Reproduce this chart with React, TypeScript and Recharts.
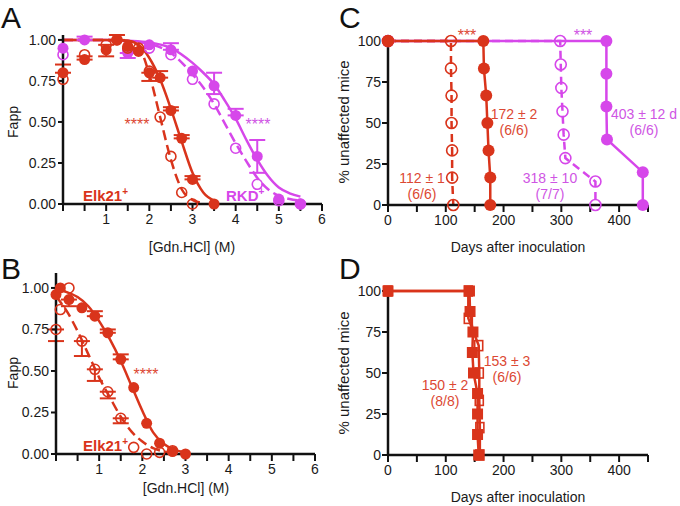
import { ComposedChart, Line, Scatter, XAxis, YAxis, ErrorBar } from "recharts";

const RED = "#d9341b";
const MAG = "#d647ea";
const RED_TXT = "#dc4833";
const MAG_TXT = "#cf55e4";
const FONT = "'Liberation Sans', Arial, Helvetica, sans-serif";

// ---- Panel A: denaturation, Elk21+ and RKD+ ----
const aElkFilled = [
  { x: 0, y: 0.8, e: [0, 0.05] },
  { x: 0.5, y: 0.88, e: [0, 0.02] },
  { x: 1, y: 0.94, e: [0.04, 0.03] },
  { x: 1.25, y: 1.0, e: [0, 0.03] },
  { x: 1.5, y: 0.96, e: null },
  { x: 1.75, y: 0.93, e: [0, 0.02] },
  { x: 2, y: 0.8, e: [0.05, 0] },
  { x: 2.25, y: 0.77, e: [0, 0.04] },
  { x: 2.5, y: 0.57, e: [0, 0.02] },
  { x: 2.75, y: 0.4, e: [0, 0.02] },
  { x: 3, y: 0.15, e: [0, 0.02] },
  { x: 3.5, y: 0.0, e: null },
];
const aElkOpen = [
  { x: 0, y: 0.76 },
  { x: 0.5, y: 0.91 },
  { x: 1, y: 0.97 },
  { x: 1.25, y: 1.0 },
  { x: 1.5, y: 0.95 },
  { x: 1.75, y: 0.95 },
  { x: 2, y: 0.81 },
  { x: 2.25, y: 0.53 },
  { x: 2.5, y: 0.29 },
  { x: 2.75, y: 0.07 },
  { x: 3, y: 0.0 },
];
const aRkdFilled = [
  { x: 0, y: 0.95, e: null },
  { x: 0.5, y: 1.0, e: [0, 0.02] },
  { x: 1.5, y: 0.92, e: [0.03, 0] },
  { x: 2, y: 0.97, e: null },
  { x: 2.5, y: 0.94, e: [0, 0.04] },
  { x: 3, y: 0.81, e: null },
  { x: 3.5, y: 0.72, e: [0.05, 0.08] },
  { x: 4, y: 0.54, e: [0, 0.04] },
  { x: 4.5, y: 0.29, e: [0.1, 0.1] },
  { x: 5, y: 0.03, e: null },
  { x: 5.5, y: 0.0, e: null },
];
const aRkdOpen = [
  { x: 0, y: 0.91 },
  { x: 1.5, y: 0.94 },
  { x: 2, y: 0.95 },
  { x: 2.5, y: 0.91 },
  { x: 3, y: 0.76 },
  { x: 3.5, y: 0.61 },
  { x: 4, y: 0.34 },
  { x: 4.5, y: 0.12 },
  { x: 5, y: 0.02 },
  { x: 5.5, y: 0.0 },
];
const aElkSolidFit = [
  { x: 0, y: 1 }, { x: 1, y: 1 }, { x: 1.5, y: 0.995 }, { x: 1.75, y: 0.97 },
  { x: 2, y: 0.89 }, { x: 2.25, y: 0.76 }, { x: 2.5, y: 0.58 }, { x: 2.75, y: 0.38 },
  { x: 3, y: 0.19 }, { x: 3.25, y: 0.07 }, { x: 3.5, y: 0.02 },
];
const aElkDashFit = [
  { x: 0, y: 1 }, { x: 1, y: 1 }, { x: 1.5, y: 0.995 }, { x: 1.75, y: 0.96 },
  { x: 2, y: 0.79 }, { x: 2.25, y: 0.53 }, { x: 2.5, y: 0.27 }, { x: 2.75, y: 0.09 },
  { x: 3, y: 0.025 }, { x: 3.25, y: 0.005 },
];
const aRkdSolidFit = [
  { x: 0, y: 1 }, { x: 1, y: 1 }, { x: 1.5, y: 0.995 }, { x: 2, y: 0.985 },
  { x: 2.5, y: 0.95 }, { x: 3, y: 0.86 }, { x: 3.25, y: 0.8 }, { x: 3.5, y: 0.73 },
  { x: 3.75, y: 0.63 }, { x: 4, y: 0.52 }, { x: 4.25, y: 0.39 }, { x: 4.5, y: 0.27 },
  { x: 4.75, y: 0.17 }, { x: 5, y: 0.1 }, { x: 5.25, y: 0.065 }, { x: 5.5, y: 0.045 },
];
const aRkdDashFit = [
  { x: 0, y: 1 }, { x: 1, y: 1 }, { x: 1.5, y: 0.99 }, { x: 2, y: 0.975 },
  { x: 2.5, y: 0.92 }, { x: 3, y: 0.79 }, { x: 3.25, y: 0.71 }, { x: 3.5, y: 0.61 },
  { x: 3.75, y: 0.49 }, { x: 4, y: 0.37 }, { x: 4.25, y: 0.26 }, { x: 4.5, y: 0.16 },
  { x: 4.75, y: 0.09 }, { x: 5, y: 0.05 }, { x: 5.25, y: 0.03 }, { x: 5.5, y: 0.02 },
];

// ---- Panel B: Elk21+ ----
const bFilled = [
  { x: 0, y: 0.96, e: null },
  { x: 0.1, y: 1.0, e: null },
  { x: 0.3, y: 0.93, e: [0.04, 0] },
  { x: 0.6, y: 0.88, e: null },
  { x: 0.9, y: 0.83, e: [0, 0.03] },
  { x: 1.2, y: 0.73, e: [0, 0.02] },
  { x: 1.5, y: 0.57, e: [0, 0.03] },
  { x: 1.8, y: 0.4, e: null },
  { x: 2.1, y: 0.185, e: null },
  { x: 2.4, y: 0.065, e: null },
  { x: 2.7, y: 0.015, e: null },
  { x: 3, y: 0.0, e: null },
];
const bOpen = [
  { x: 0, y: 0.75, e: [0.07, 0] },
  { x: 0.1, y: 0.87, e: null },
  { x: 0.3, y: 1.0, e: null },
  { x: 0.6, y: 0.68, e: [0.09, 0] },
  { x: 0.9, y: 0.51, e: [0.07, 0] },
  { x: 1.2, y: 0.375, e: [0.04, 0] },
  { x: 1.5, y: 0.215, e: [0.03, 0] },
  { x: 1.8, y: 0.04, e: null },
  { x: 2.1, y: 0.0, e: null },
  { x: 2.4, y: 0.01, e: null },
  { x: 2.7, y: 0.02, e: null },
];
const bSolidFit = [
  { x: 0, y: 0.99 }, { x: 0.25, y: 0.975 }, { x: 0.5, y: 0.945 }, { x: 0.75, y: 0.89 },
  { x: 1, y: 0.8 }, { x: 1.25, y: 0.69 }, { x: 1.5, y: 0.56 }, { x: 1.75, y: 0.41 },
  { x: 2, y: 0.26 }, { x: 2.25, y: 0.13 }, { x: 2.5, y: 0.06 }, { x: 2.75, y: 0.025 },
  { x: 3, y: 0.01 },
];
const bDashFit = [
  { x: 0, y: 0.95 }, { x: 0.25, y: 0.86 }, { x: 0.5, y: 0.74 }, { x: 0.75, y: 0.6 },
  { x: 1, y: 0.46 }, { x: 1.25, y: 0.34 }, { x: 1.5, y: 0.225 }, { x: 1.75, y: 0.135 },
  { x: 2, y: 0.075 }, { x: 2.25, y: 0.035 }, { x: 2.5, y: 0.015 }, { x: 2.75, y: 0.005 },
];

// ---- Panel C: survival ----
const cElkFilled = [
  { x: 0, y: 100 }, { x: 165, y: 100 }, { x: 166, y: 83.3 }, { x: 170, y: 66.7 },
  { x: 172, y: 50 }, { x: 174, y: 33.3 }, { x: 177, y: 16.7 }, { x: 177, y: 0 },
];
const cElkOpen = [
  { x: 0, y: 100 }, { x: 109, y: 100 }, { x: 109, y: 83.3 }, { x: 110, y: 66.7 },
  { x: 110, y: 50 }, { x: 111, y: 33.3 }, { x: 111, y: 16.7 }, { x: 113, y: 0 },
];
const cRkdFilled = [
  { x: 0, y: 100 }, { x: 378, y: 100 }, { x: 378, y: 80 }, { x: 378, y: 60 },
  { x: 379, y: 40 }, { x: 441, y: 20 }, { x: 441, y: 0 },
];
const cRkdOpen = [
  { x: 0, y: 100 }, { x: 298, y: 100 }, { x: 299, y: 85.7 }, { x: 300, y: 71.4 },
  { x: 302, y: 57.1 }, { x: 304, y: 42.9 }, { x: 307, y: 28.6 }, { x: 359, y: 14.3 },
  { x: 359, y: 0 },
];

// ---- Panel D: survival ----
const dFilled = [
  { x: 0, y: 100 }, { x: 141, y: 100 }, { x: 142, y: 87.5 }, { x: 147, y: 75 },
  { x: 146, y: 62.5 }, { x: 148, y: 50 }, { x: 155, y: 37.5 }, { x: 155, y: 25 },
  { x: 155, y: 12.5 }, { x: 157, y: 0 },
];
const dOpen = [
  { x: 0, y: 100 }, { x: 139, y: 100 }, { x: 139, y: 83.3 }, { x: 157, y: 66.7 },
  { x: 158, y: 50 }, { x: 158, y: 33.3 }, { x: 159, y: 16.7 }, { x: 159, y: 0 },
];

const fappTicks = [0, 0.25, 0.5, 0.75, 1];
const gdnTicks = [0, 0.5, 1, 1.5, 2, 2.5, 3, 3.5, 4, 4.5, 5, 5.5, 6];
const pctTicks = [0, 25, 50, 75, 100];
const dayTicks = [0, 50, 100, 150, 200, 250, 300, 350, 400, 450];

const tickStyle = { fill: "#1a1a1a", fontSize: 14, fontFamily: FONT };
const axisLine = { stroke: "#111", strokeWidth: 2.5 };
const tickLine = { stroke: "#111", strokeWidth: 2 };

const fillCircle = (color: string, r = 5.5) => (p: any) =>
  <circle key={p.index} cx={p.cx} cy={p.cy} r={r} fill={color} />;
const openCircle = (color: string, r = 5) => (p: any) =>
  <circle key={p.index} cx={p.cx} cy={p.cy} r={r} fill="none" stroke={color} strokeWidth={1.6} />;
const fillSquare = (color: string) => (p: any) =>
  <rect key={p.index} x={p.cx - 5.5} y={p.cy - 5.5} width={11} height={11} fill={color} />;
const openSquare = (color: string) => (p: any) =>
  <rect key={p.index} x={p.cx - 4} y={p.cy - 5} width={8} height={10} fill="none" stroke={color} strokeWidth={1.6} />;

const gdnFmt = (v: number) => (Number.isInteger(v) && v > 0 ? String(v) : "");
const dayFmt = (v: number) => (v % 100 === 0 && v < 450 ? String(v) : "");

function PanelA() {
  return (
    <ComposedChart width={340} height={260} margin={{ top: 35, right: 18, bottom: 26, left: 13 }}>
      <XAxis type="number" dataKey="x" domain={[0, 6]} ticks={gdnTicks} interval={0}
        tickFormatter={gdnFmt} tick={tickStyle} axisLine={axisLine} tickLine={tickLine}
        tickSize={7} tickMargin={3} height={30} />
      <YAxis type="number" dataKey="y" domain={[0, 1.03]} ticks={fappTicks} interval={0}
        tickFormatter={(v: number) => v.toFixed(2)} tick={tickStyle} axisLine={axisLine}
        tickLine={tickLine} tickSize={5} tickMargin={2} width={50} />
      <Line data={aRkdDashFit} dataKey="y" type="monotone" stroke={MAG} strokeWidth={2.5}
        strokeDasharray="10 5" dot={false} isAnimationActive={false} />
      <Line data={aRkdSolidFit} dataKey="y" type="monotone" stroke={MAG} strokeWidth={2.5}
        dot={false} isAnimationActive={false} />
      <Line data={aElkDashFit} dataKey="y" type="monotone" stroke={RED} strokeWidth={2.5}
        strokeDasharray="10 5" dot={false} isAnimationActive={false} />
      <Line data={aElkSolidFit} dataKey="y" type="monotone" stroke={RED} strokeWidth={2.5}
        dot={false} isAnimationActive={false} />
      <Scatter data={aRkdOpen} shape={openCircle(MAG)} isAnimationActive={false} />
      <Scatter data={aRkdFilled} shape={fillCircle(MAG)} isAnimationActive={false}>
        <ErrorBar dataKey="e" direction="y" width={8} stroke={MAG} strokeWidth={2} />
      </Scatter>
      <Scatter data={aElkOpen} shape={openCircle(RED)} isAnimationActive={false} />
      <Scatter data={aElkFilled} shape={fillCircle(RED)} isAnimationActive={false}>
        <ErrorBar dataKey="e" direction="y" width={8} stroke={RED} strokeWidth={2} />
      </Scatter>
    </ComposedChart>
  );
}

function PanelB() {
  return (
    <ComposedChart width={340} height={256} margin={{ top: 23, right: 25, bottom: 22, left: 6 }}>
      <XAxis type="number" dataKey="x" domain={[0, 6]} ticks={gdnTicks} interval={0}
        tickFormatter={gdnFmt} tick={tickStyle} axisLine={axisLine} tickLine={tickLine}
        tickSize={7} tickMargin={3} height={30} />
      <YAxis type="number" dataKey="y" domain={[0, 1.09]} ticks={fappTicks} interval={0}
        tickFormatter={(v: number) => v.toFixed(2)} tick={tickStyle} axisLine={axisLine}
        tickLine={tickLine} tickSize={5} tickMargin={2} width={50} />
      <Line data={bDashFit} dataKey="y" type="monotone" stroke={RED} strokeWidth={2.5}
        strokeDasharray="10 5" dot={false} isAnimationActive={false} />
      <Line data={bSolidFit} dataKey="y" type="monotone" stroke={RED} strokeWidth={2.5}
        dot={false} isAnimationActive={false} />
      <Scatter data={bOpen} shape={openCircle(RED)} isAnimationActive={false}>
        <ErrorBar dataKey="e" direction="y" width={8} stroke={RED} strokeWidth={2} />
      </Scatter>
      <Scatter data={bFilled} shape={fillCircle(RED)} isAnimationActive={false}>
        <ErrorBar dataKey="e" direction="y" width={8} stroke={RED} strokeWidth={2} />
      </Scatter>
    </ComposedChart>
  );
}

function PanelC() {
  return (
    <ComposedChart width={340} height={260} margin={{ top: 41, right: 32, bottom: 25, left: 8 }}>
      <XAxis type="number" dataKey="x" domain={[0, 450]} ticks={dayTicks} interval={0}
        tickFormatter={dayFmt} tick={tickStyle} axisLine={axisLine} tickLine={tickLine}
        tickSize={7} tickMargin={3} height={30} />
      <YAxis type="number" dataKey="y" domain={[0, 100]} ticks={pctTicks} interval={0}
        tick={tickStyle} axisLine={axisLine} tickLine={tickLine} tickSize={6} tickMargin={1} width={40} />
      <Line data={cRkdOpen} dataKey="y" type="linear" stroke={MAG} strokeWidth={2.5}
        strokeDasharray="8 5" dot={openCircle(MAG, 5.5)} isAnimationActive={false} />
      <Line data={cRkdFilled} dataKey="y" type="linear" stroke={MAG} strokeWidth={2.5}
        dot={fillCircle(MAG, 6)} isAnimationActive={false} />
      <Line data={cElkOpen} dataKey="y" type="linear" stroke={RED} strokeWidth={2.5}
        strokeDasharray="8 5" dot={openCircle(RED, 5.5)} isAnimationActive={false} />
      <Line data={cElkFilled} dataKey="y" type="linear" stroke={RED} strokeWidth={2.5}
        dot={fillCircle(RED, 6)} isAnimationActive={false} />
    </ComposedChart>
  );
}

function PanelD() {
  return (
    <ComposedChart width={340} height={256} margin={{ top: 41, right: 32, bottom: 21, left: 8 }}>
      <XAxis type="number" dataKey="x" domain={[0, 450]} ticks={dayTicks} interval={0}
        tickFormatter={dayFmt} tick={tickStyle} axisLine={axisLine} tickLine={tickLine}
        tickSize={7} tickMargin={3} height={30} />
      <YAxis type="number" dataKey="y" domain={[0, 100]} ticks={pctTicks} interval={0}
        tick={tickStyle} axisLine={axisLine} tickLine={tickLine} tickSize={6} tickMargin={1} width={40} />
      <Line data={dOpen} dataKey="y" type="linear" stroke={RED} strokeWidth={2.5}
        dot={openSquare(RED)} isAnimationActive={false} />
      <Line data={dFilled} dataKey="y" type="linear" stroke={RED} strokeWidth={2.5}
        dot={fillSquare(RED)} isAnimationActive={false} />
    </ComposedChart>
  );
}

function Overlay() {
  const t = { fontFamily: FONT, fontSize: 14 } as const;
  const lbl = { fontFamily: FONT, fontSize: 14, fill: "#1a1a1a" } as const;
  return (
    <svg width={680} height={506} style={{ position: "absolute", left: 0, top: 0, pointerEvents: "none" }}>
      <text x={1} y={28} fontSize={30} fontFamily={FONT} fill="#111">A</text>
      <text x={1} y={279} fontSize={30} fontFamily={FONT} fill="#111">B</text>
      <text x={339} y={28} fontSize={30} fontFamily={FONT} fill="#111">C</text>
      <text x={339} y={279} fontSize={30} fontFamily={FONT} fill="#111">D</text>

      <text {...lbl} x={192} y={252} textAnchor="middle">[Gdn.HCl] (M)</text>
      <text {...lbl} x={186} y={493} textAnchor="middle">[Gdn.HCl] (M)</text>
      <text {...lbl} x={518} y={252} textAnchor="middle">Days after inoculation</text>
      <text {...lbl} x={518} y={502} textAnchor="middle">Days after inoculation</text>
      <text {...lbl} transform="translate(18,122) rotate(-90)" textAnchor="middle">Fapp</text>
      <text {...lbl} transform="translate(18,373) rotate(-90)" textAnchor="middle">Fapp</text>
      <text {...lbl} fontSize={15} transform="translate(349,122) rotate(-90)" textAnchor="middle">% unaffected mice</text>
      <text {...lbl} fontSize={15} transform="translate(349,373) rotate(-90)" textAnchor="middle">% unaffected mice</text>

      <text x={137} y={130} textAnchor="middle" fontSize={16} fontFamily={FONT} fill={RED_TXT}>****</text>
      <text x={258} y={130} textAnchor="middle" fontSize={16} fontFamily={FONT} fill={MAG_TXT}>****</text>
      <text x={83} y={201} fontSize={15} fontWeight="bold" fontFamily={FONT} fill={RED}>Elk21<tspan fontSize={10} dy={-6}>+</tspan></text>
      <text x={226} y={201} fontSize={15} fontWeight="bold" fontFamily={FONT} fill={MAG}>RKD<tspan fontSize={10} dy={-6}>+</tspan></text>

      <text x={146} y={380} textAnchor="middle" fontSize={16} fontFamily={FONT} fill={RED_TXT}>****</text>
      <text x={83} y={451} fontSize={15} fontWeight="bold" fontFamily={FONT} fill={RED}>Elk21<tspan fontSize={10} dy={-6}>+</tspan></text>

      <text x={467} y={41} textAnchor="middle" fontSize={16} fontFamily={FONT} fill={RED_TXT}>***</text>
      <text x={583} y={41} textAnchor="middle" fontSize={16} fontFamily={FONT} fill={MAG_TXT}>***</text>
      <g {...t} fill={RED_TXT} textAnchor="middle">
        <text x={514} y={119}>172 ± 2</text>
        <text x={514} y={135}>(6/6)</text>
        <text x={422} y={183}>112 ± 1</text>
        <text x={422} y={199}>(6/6)</text>
      </g>
      <g {...t} fill={MAG_TXT} textAnchor="middle">
        <text x={550} y={183}>318 ± 10</text>
        <text x={550} y={199}>(7/7)</text>
        <text x={644} y={119}>403 ± 12 d</text>
        <text x={644} y={135}>(6/6)</text>
      </g>
      <g {...t} fill={RED_TXT} textAnchor="middle">
        <text x={507} y={366}>153 ± 3</text>
        <text x={507} y={382}>(6/6)</text>
        <text x={445} y={390}>150 ± 2</text>
        <text x={445} y={406}>(8/8)</text>
      </g>
    </svg>
  );
}

export default function App() {
  return (
    <div style={{ position: "absolute", left: 0, top: 0, width: 680, height: 506, background: "#fff" }}>
      <div style={{ position: "absolute", left: 0, top: 0 }}><PanelA /></div>
      <div style={{ position: "absolute", left: 0, top: 250 }}><PanelB /></div>
      <div style={{ position: "absolute", left: 340, top: 0 }}><PanelC /></div>
      <div style={{ position: "absolute", left: 340, top: 250 }}><PanelD /></div>
      <Overlay />
    </div>
  );
}
